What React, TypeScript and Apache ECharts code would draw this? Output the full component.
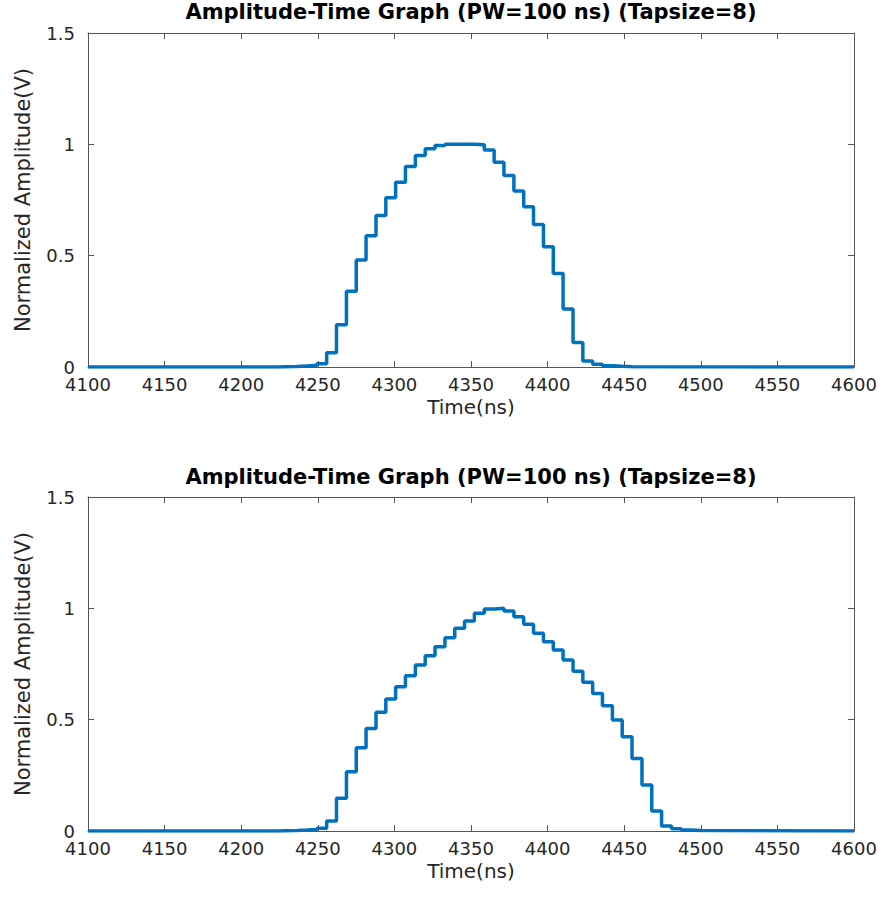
import React, { useEffect, useRef } from "react";
import * as echarts from "echarts";

const chartTitle = "Amplitude-Time Graph (PW=100 ns) (Tapsize=8)";
const xName = "Time(ns)";
const yName = "Normalized Amplitude(V)";

const timeTop = [
  4100, 4223.7, 4230.1, 4236.5, 4242.9, 4249.4, 4255.8, 4262.2, 4268.7, 4275.1,
  4281.5, 4288.0, 4294.4, 4300.8, 4307.2, 4313.7, 4320.1, 4326.5, 4333.0, 4339.4,
  4345.8, 4352.2, 4358.7, 4365.1, 4371.5, 4378.0, 4384.4, 4390.8, 4397.3, 4403.7,
  4410.1, 4416.6, 4423.0, 4429.4, 4435.8, 4442.3, 4448.7, 4455.1, 4600,
];
const ampTop = [
  0, 0.001, 0.002, 0.005, 0.008, 0.015, 0.064, 0.19, 0.34, 0.48,
  0.59, 0.68, 0.76, 0.83, 0.9, 0.95, 0.98, 0.995, 1.0, 1.0,
  1.0, 0.998, 0.975, 0.92, 0.86, 0.79, 0.72, 0.64, 0.54, 0.42,
  0.26, 0.11, 0.027, 0.012, 0.006, 0.003, 0.001, 0, 0,
];

const timeBottom = [
  4100, 4223.7, 4230.1, 4236.5, 4242.9, 4249.4, 4255.8, 4262.2, 4268.7, 4275.1,
  4281.5, 4288.0, 4294.4, 4300.8, 4307.2, 4313.7, 4320.1, 4326.5, 4333.0, 4339.4,
  4345.8, 4352.2, 4358.7, 4365.1, 4371.5, 4378.0, 4384.4, 4390.8, 4397.3, 4403.7,
  4410.1, 4416.6, 4423.0, 4429.4, 4435.8, 4442.3, 4448.7, 4455.1, 4461.6, 4468.0,
  4474.4, 4480.9, 4487.3, 4493.7, 4500.1, 4600,
];
const ampBottom = [
  0, 0.001, 0.002, 0.004, 0.007, 0.012, 0.045, 0.147, 0.266, 0.374,
  0.46, 0.533, 0.593, 0.648, 0.697, 0.745, 0.787, 0.828, 0.868, 0.91,
  0.943, 0.978, 0.997, 1.0, 0.988, 0.962, 0.928, 0.888, 0.85, 0.813,
  0.768, 0.718, 0.668, 0.618, 0.563, 0.498, 0.423, 0.326, 0.207, 0.09,
  0.022, 0.01, 0.005, 0.002, 0, 0,
];

const xMin = 4100;
const xMax = 4600;
const xStep = 50;
const yMin = 0;
const yMax = 1.5;
const yStep = 0.5;

const FONT = "DejaVu Sans, Liberation Sans, Arial, sans-serif";
const AXIS_COLOR = "#555555";
const TEXT_COLOR = "#262626";
const LINE_COLOR = "#0072BD";

function buildOption() {
  const grids = [
    { left: 88, top: 33, width: 766, height: 334 },
    { left: 88, top: 497, width: 766, height: 334 },
  ];
  const xAxes: any[] = [];
  const yAxes: any[] = [];
  grids.forEach((_, g) => {
    xAxes.push({
      type: "value",
      gridIndex: g,
      position: "bottom",
      min: xMin,
      max: xMax,
      interval: xStep,
      name: xName,
      nameLocation: "middle",
      nameGap: 30,
      nameTextStyle: { fontFamily: FONT, fontSize: 20, color: TEXT_COLOR },
      axisLine: { show: true, onZero: false, lineStyle: { color: AXIS_COLOR, width: 1 } },
      axisTick: { show: true, inside: true, length: 6, lineStyle: { color: AXIS_COLOR } },
      axisLabel: {
        show: true,
        margin: 10,
        fontFamily: FONT,
        fontSize: 18,
        lineHeight: 14,
        color: TEXT_COLOR,
        formatter: (v: number) => String(v),
      },
      splitLine: { show: false },
    });
    xAxes.push({
      type: "value",
      gridIndex: g,
      position: "top",
      min: xMin,
      max: xMax,
      interval: xStep,
      axisLine: { show: true, onZero: false, lineStyle: { color: AXIS_COLOR, width: 1 } },
      axisTick: { show: true, inside: true, length: 6, lineStyle: { color: AXIS_COLOR } },
      axisLabel: { show: false },
      splitLine: { show: false },
    });
    yAxes.push({
      type: "value",
      gridIndex: g,
      position: "left",
      min: yMin,
      max: yMax,
      interval: yStep,
      name: yName,
      nameLocation: "middle",
      nameGap: 55,
      nameTextStyle: { fontFamily: FONT, fontSize: 21, color: TEXT_COLOR },
      axisLine: { show: true, onZero: false, lineStyle: { color: AXIS_COLOR, width: 1 } },
      axisTick: { show: true, inside: true, length: 6, lineStyle: { color: AXIS_COLOR } },
      axisLabel: {
        show: true,
        margin: 13,
        fontFamily: FONT,
        fontSize: 18,
        lineHeight: 14,
        color: TEXT_COLOR,
        formatter: (v: number) => String(v),
      },
      splitLine: { show: false },
    });
    yAxes.push({
      type: "value",
      gridIndex: g,
      position: "right",
      min: yMin,
      max: yMax,
      interval: yStep,
      axisLine: { show: true, onZero: false, lineStyle: { color: AXIS_COLOR, width: 1 } },
      axisTick: { show: true, inside: true, length: 6, lineStyle: { color: AXIS_COLOR } },
      axisLabel: { show: false },
      splitLine: { show: false },
    });
  });

  const topData = timeTop.map((t, i) => [t, ampTop[i]]);
  const bottomData = timeBottom.map((t, i) => [t, ampBottom[i]]);

  const titleStyle = { fontFamily: FONT, fontSize: 21, fontWeight: "bold", color: "#000000" };

  return {
    animation: false,
    backgroundColor: "#ffffff",
    title: [
      { text: chartTitle, left: 471, top: 1, textAlign: "center", padding: 0, textStyle: titleStyle },
      { text: chartTitle, left: 471, top: 466, textAlign: "center", padding: 0, textStyle: titleStyle },
    ],
    grid: grids,
    xAxis: xAxes,
    yAxis: yAxes,
    series: [
      {
        type: "line",
        xAxisIndex: 0,
        yAxisIndex: 0,
        step: "end",
        data: topData,
        showSymbol: false,
        symbol: "none",
        lineStyle: { color: LINE_COLOR, width: 3.5 },
      },
      {
        type: "line",
        xAxisIndex: 2,
        yAxisIndex: 2,
        step: "end",
        data: bottomData,
        showSymbol: false,
        symbol: "none",
        lineStyle: { color: LINE_COLOR, width: 3.5 },
      },
    ],
  };
}

export default function App() {
  const ref = useRef<HTMLDivElement>(null);
  useEffect(() => {
    if (!ref.current) return;
    const chart = echarts.init(ref.current, null, { renderer: "svg" });
    chart.setOption(buildOption() as any);
    return () => chart.dispose();
  }, []);
  return (
    <div
      ref={ref}
      style={{ position: "fixed", left: 0, top: 0, width: 884, height: 914, background: "#fff" }}
    />
  );
}
